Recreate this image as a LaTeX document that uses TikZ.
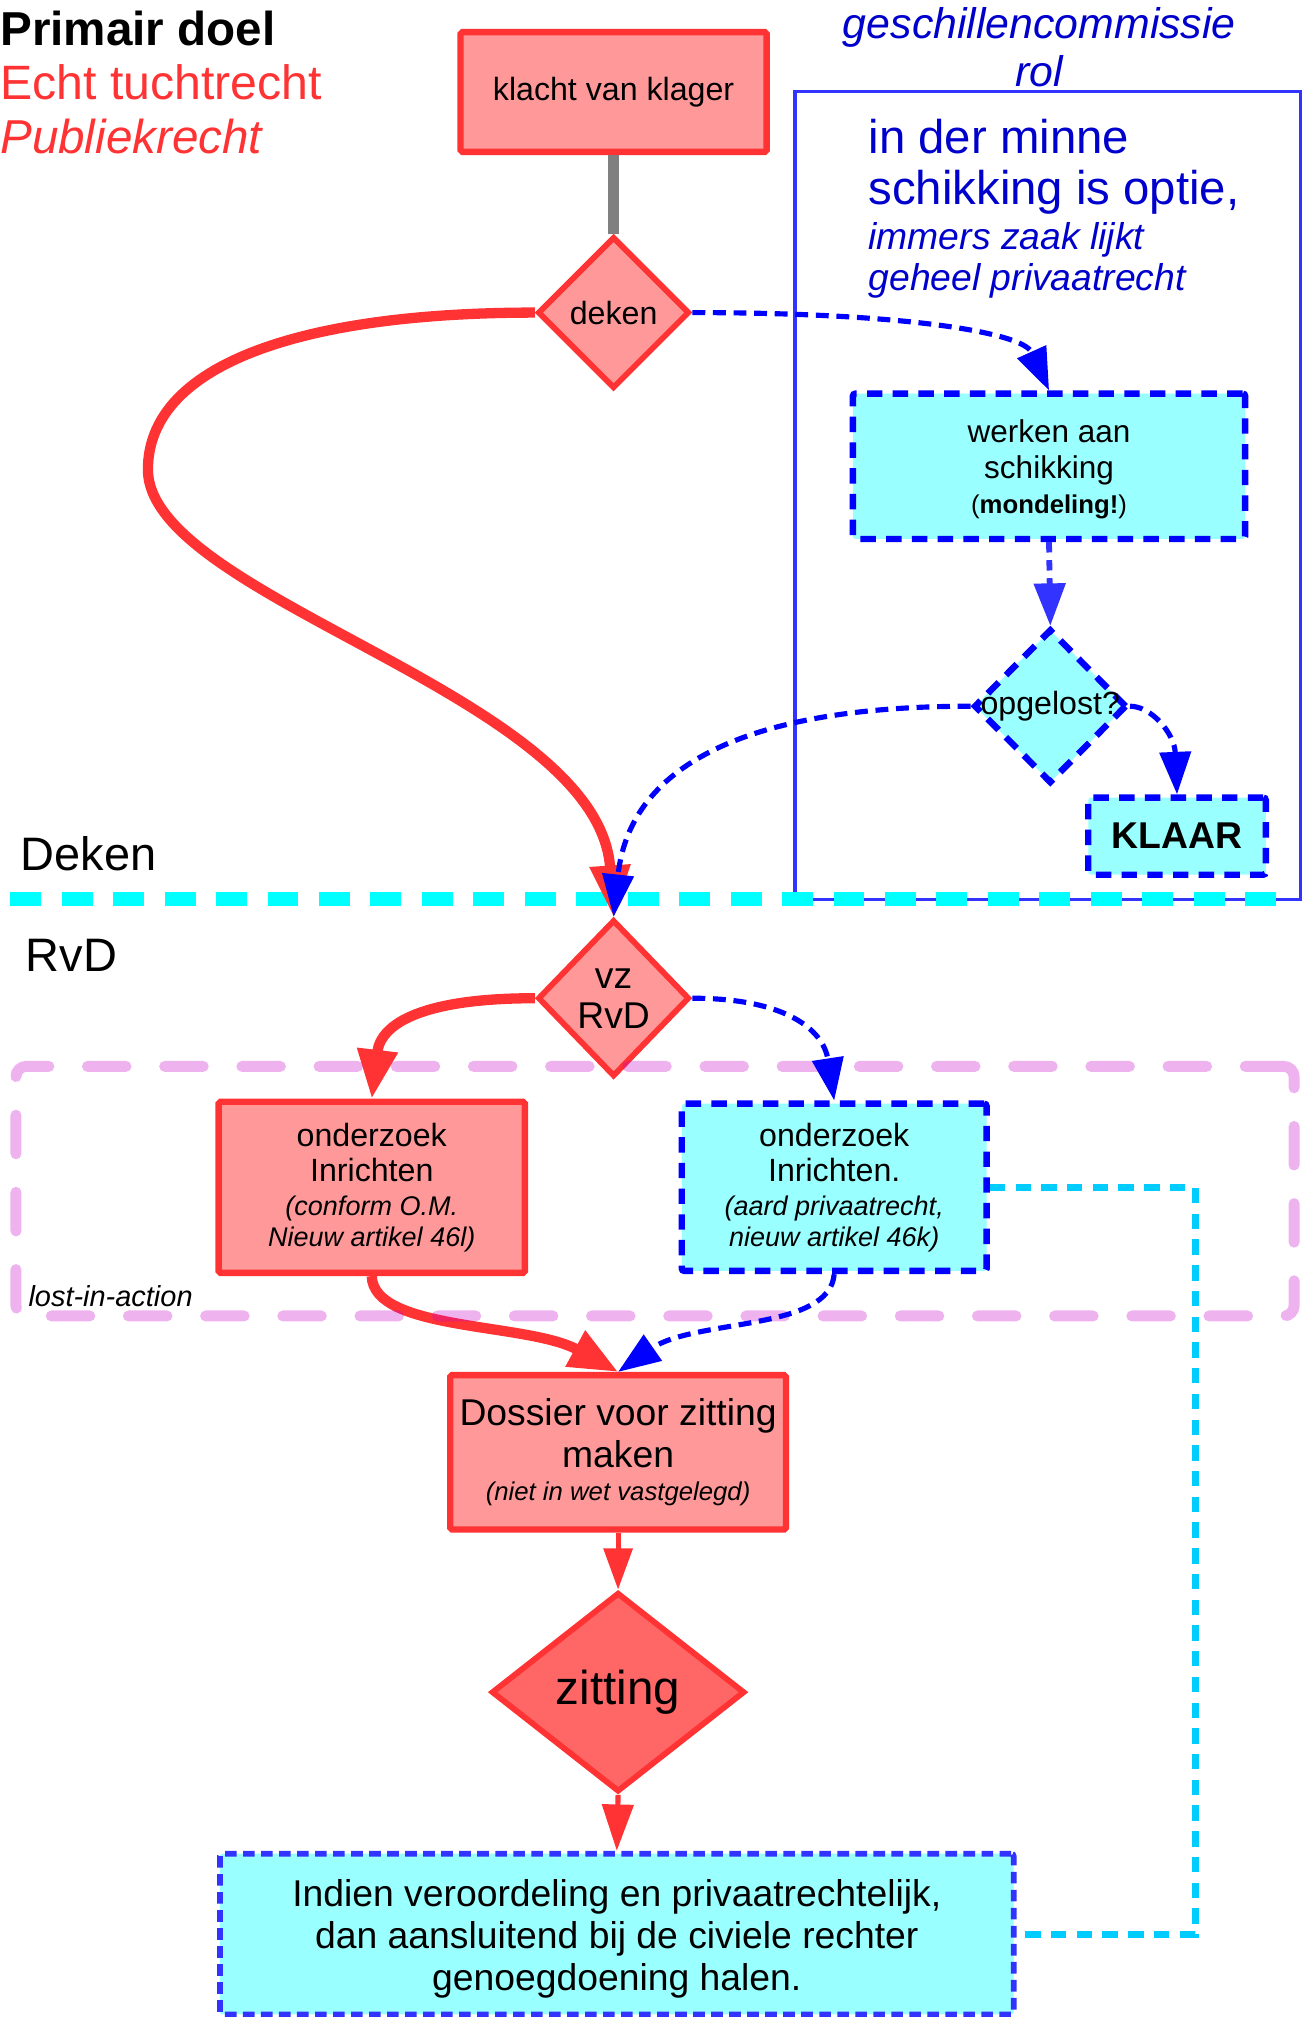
\documentclass[tikz,border=0pt]{standalone}
\usepackage{fontspec}
\setmainfont{Liberation Sans}
\usetikzlibrary{arrows.meta,shapes.geometric}
\definecolor{redline}{HTML}{FF3333}
\definecolor{redfill}{HTML}{FF9999}
\definecolor{zitfill}{HTML}{FF6666}
\definecolor{cyanfill}{HTML}{99FFFF}
\definecolor{blueline}{HTML}{0000FF}
\definecolor{bluelinetwo}{HTML}{3333FF}
\definecolor{bluetext}{HTML}{0000CC}
\definecolor{sepcyan}{HTML}{00FFFF}
\definecolor{linkcyan}{HTML}{00CCFF}
\definecolor{lostpink}{RGB}{200,0,200}
\definecolor{graylink}{HTML}{808080}
\newcommand{\fsz}[2]{\fontsize{#1pt}{#2pt}\selectfont}
\begin{document}
\begin{tikzpicture}[x=1pt,y=-1pt,
  redbox/.style={draw=redline,fill=redfill,line width=5pt,rounded corners=1.5pt,inner sep=0pt,align=center},
  reddia/.style={diamond,draw=redline,fill=redfill,line width=4.5pt,inner sep=0pt,align=center},
  cyanbox/.style={draw=blueline,fill=cyanfill,line width=5pt,dash pattern=on 12pt off 8pt,rounded corners=2pt,inner sep=0pt,align=center},
  cyandia/.style={diamond,draw=blueline,fill=cyanfill,line width=5pt,dash pattern=on 12pt off 8pt,inner sep=0pt},
  bigcyanbox/.style={draw=bluelinetwo,fill=cyanfill,line width=4.5pt,dash pattern=on 9pt off 5pt,rounded corners=2pt,inner sep=0pt,align=center},
  redarrow/.style={draw=redline,line width=8pt,-{Triangle[length=40pt,width=30pt]}},
  redthin/.style={draw=redline,line width=4pt,-{Triangle[length=32pt,width=22pt]}},
  bluearrow/.style={draw=blueline,line width=4pt,dash pattern=on 10pt off 6pt,-{Triangle[length=33pt,width=24pt]}},
  cyanlink/.style={draw=linkcyan,line width=5.5pt,dash pattern=on 12pt off 8pt},
  sepline/.style={draw=sepcyan,line width=11pt,dash pattern=on 24pt off 16pt},
  freetext/.style={anchor=base west,inner sep=0pt},
]
\useasboundingbox (0,0) rectangle (1016,1568);

% headings
\node[freetext,font=\bfseries\fsz{37}{40}] (primair) at (0,35) {Primair doel};
\node[freetext,font=\fsz{37.5}{40},text=redline] (echt) at (0,77) {Echt tuchtrecht};
\node[freetext,font=\itshape\fsz{37}{40},text=redline] (publiek) at (0,119) {Publiekrecht};

% geschillencommissie
\node[anchor=base,inner sep=0pt,font=\itshape\fsz{33.3}{36},text=bluetext] (gc1) at (808,30) {geschillencommissie};
\node[anchor=base,inner sep=0pt,font=\itshape\fsz{33.3}{36},text=bluetext] (gc2) at (808,67) {rol};
\node[draw=bluelinetwo,line width=2.5pt,minimum width=393pt,minimum height=628pt,inner sep=0pt] (gcbox) at (814.5,385) {};
\node[freetext,font=\fsz{36.8}{40},text=bluetext] (minne1) at (675,119) {in der minne};
\node[freetext,font=\fsz{36.8}{40},text=bluetext] (minne2) at (675,159) {schikking is optie,};
\node[freetext,font=\itshape\fsz{29}{32},text=bluetext] (minne3) at (675,194) {immers zaak lijkt};
\node[freetext,font=\itshape\fsz{29}{32},text=bluetext] (minne4) at (675,226) {geheel privaatrecht};

% separator
\coordinate (sepL) at (8,699);
\coordinate (sepR) at (1001,699);
\draw[sepline] (sepL) -- (sepR);
\node[freetext,font=\fsz{36.5}{40}] (dekenlbl) at (16,677) {Deken};
\node[freetext,font=\fsz{36.5}{40}] (rvdlbl) at (20,755) {RvD};

% nodes
\node[redbox,minimum width=238pt,minimum height=93pt,font=\fsz{25}{28}] (klacht) at (477,71.5) {\raisebox{-2pt}{klacht van klager}};
\node[reddia,minimum width=118pt,minimum height=118pt,font=\fsz{25}{28}] (deken) at (477,243) {deken};
\node[cyanbox,minimum width=305pt,minimum height=113pt,font=\fsz{24.5}{28}] (werken) at (815.5,362.5)
  {\rule{0pt}{22pt}werken aan\\schikking\\[-1pt]\fsz{20}{24}(\textbf{mondeling!})};
\node[cyandia,minimum width=119pt,minimum height=120pt,
  label={[font=\fsz{25}{28},inner sep=0pt]center:opgelost?}] (opg) at (816.5,549) {};
\node[cyanbox,minimum width=138pt,minimum height=60pt,font=\bfseries\fsz{29}{32}] (klaar) at (915,650) {KLAAR};
\node[reddia,minimum width=118pt,minimum height=122pt,font=\fsz{29}{31}] (vz) at (477,776) {vz\\RvD};
\node[redbox,minimum width=238pt,minimum height=133pt,font=\fsz{25}{27.5}] (ond1) at (289,923)
  {onderzoek\\Inrichten\\[-1pt]\fsz{21}{23}\itshape (conform O.M.\\[-4pt]\fsz{21}{23}\itshape Nieuw artikel 46l)};
\node[cyanbox,minimum width=237pt,minimum height=130pt,font=\fsz{25}{27.5}] (ond2) at (648.5,923)
  {onderzoek\\Inrichten.\\[-1pt]\fsz{21}{23}\itshape (aard privaatrecht,\\[-4pt]\fsz{21}{23}\itshape nieuw artikel 46k)};
\node[redbox,minimum width=261pt,minimum height=120pt,font=\fsz{29}{32}] (dossier) at (480.5,1129)
  {Dossier voor zitting\\maken\\[-6pt]\fsz{20}{23}\itshape (niet in wet vastgelegd)};
\node[reddia,fill=zitfill,minimum width=197pt,minimum height=155pt,font=\fsz{37}{40}] (zitting) at (480.5,1315.5) {zitting};
\node[bigcyanbox,minimum width=617pt,minimum height=125pt,font=\fsz{29}{32.5}] (civiel) at (479.5,1503.5)
  {\rule{0pt}{28pt}Indien veroordeling en privaatrechtelijk,\\dan aansluitend bij de civiele rechter\\genoegdoening halen.};

% red connectors
\draw[graylink,line width=8pt] (klacht.south) -- (deken.north);
\draw[redarrow] (deken.west) .. controls (230,243) and (115,285) .. (115,365)
  .. controls (115,465) and (465,540) .. (vz.north);
\draw[redarrow,-{Triangle[length=38pt,width=30pt]}] (vz.west) .. controls (330,776) and (296,795) .. (ond1.north);
\draw[redarrow,-{Triangle[length=38pt,width=30pt]}] (ond1.south) .. controls (290,1035) and (410,1028) .. (dossier.north);
\draw[redthin] (dossier.south) -- (zitting.north);
\draw[redthin,-{Triangle[length=36pt,width=24pt]}] (zitting.south) -- (civiel.north);

% lost-in-action box
\node[draw=lostpink,draw opacity=0.3,line width=8.5pt,line cap=round,dash pattern=on 30pt off 30pt,
  rounded corners=8pt,minimum width=993.6pt,minimum height=194pt,inner sep=0pt] (lost) at (509.2,926) {};
\node[freetext,font=\itshape\fsz{22.5}{25}] (lostlbl) at (22,1016) {lost-in-action};

% blue connectors
\draw[bluearrow] (deken.east) .. controls (700,243) and (795,258) .. (werken.north);
\draw[bluearrow,draw=bluelinetwo,line width=4.5pt,dash pattern=on 8pt off 6pt] (werken.south) -- (opg.north);
\draw[bluearrow] (opg.east) .. controls (895,549) and (913,570) .. (klaar.north);
\draw[bluearrow] (opg.west) .. controls (590,549) and (490,590) .. (vz.north);
\draw[bluearrow] (vz.east) .. controls (610,776) and (640,800) .. (ond2.north);
\draw[bluearrow] (ond2.south) .. controls (645,1035) and (540,1025) .. (dossier.north);

% cyan link
\coordinate (turn) at (929,923);
\draw[cyanlink] (ond2.east) -- (turn) |- (civiel.east);
\end{tikzpicture}
\end{document}
